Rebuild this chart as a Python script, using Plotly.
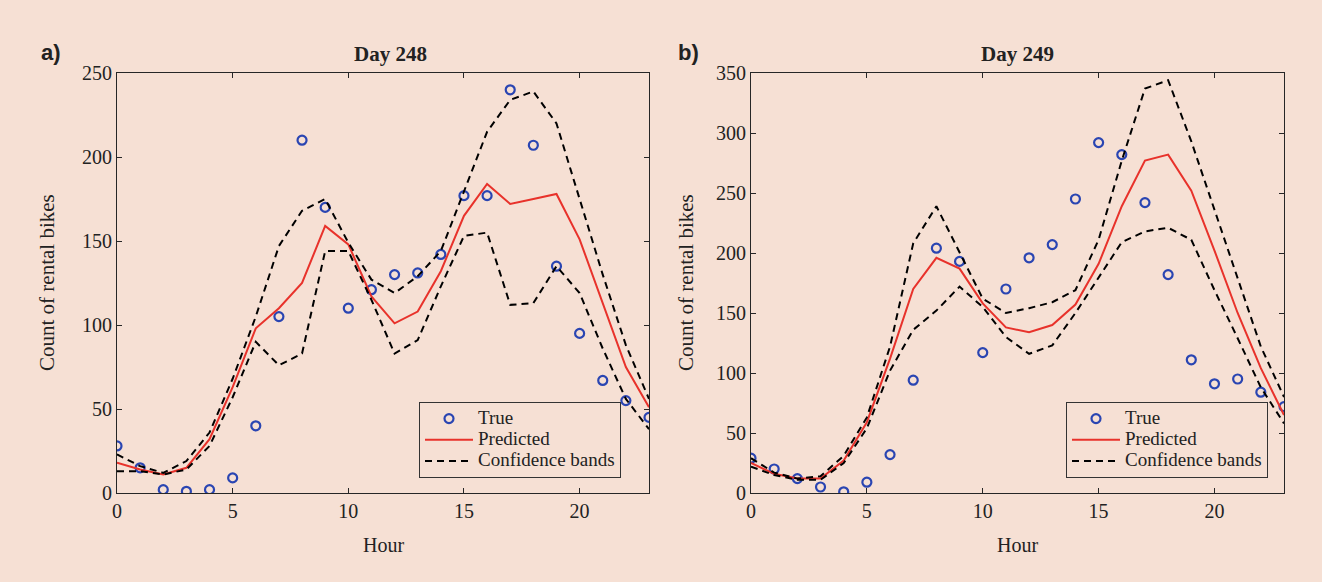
import plotly.graph_objects as go

hours = list(range(24))

# Day 248
true_248 = [28, 15, 2, 1, 2, 9, 40, 105, 210, 170, 110, 121, 130, 131, 142, 177, 177, 240, 207, 135, 95, 67, 55, 45]
pred_248 = [18, 14, 11, 15, 32, 63, 98, 110, 125, 159, 148, 117, 101, 108, 132, 165, 184, 172, 175, 178, 151, 113, 75, 51]
upper_248 = [23, 16, 12, 19, 36, 68, 105, 147, 168, 175, 149, 127, 119, 129, 144, 180, 215, 234, 239, 220, 175, 130, 88, 56]
lower_248 = [13, 13, 11, 14, 28, 57, 90, 76, 83, 144, 144, 115, 83, 91, 123, 153, 155, 112, 113, 135, 119, 86, 56, 38]

# Day 249
true_249 = [29, 20, 12, 5, 1, 9, 32, 94, 204, 193, 117, 170, 196, 207, 245, 292, 282, 242, 182, 111, 91, 95, 84, 72]
pred_249 = [25, 16, 12, 12, 27, 59, 112, 170, 196, 187, 158, 138, 134, 140, 157, 191, 239, 277, 282, 252, 202, 150, 104, 65]
upper_249 = [29, 17, 12, 14, 31, 63, 122, 208, 239, 200, 162, 150, 154, 159, 169, 211, 277, 337, 344, 293, 236, 179, 122, 80]
lower_249 = [22, 15, 11, 11, 25, 54, 102, 136, 152, 172, 155, 130, 116, 123, 150, 180, 209, 218, 221, 211, 169, 129, 88, 58]

BG = "#F6E0D4"
BLUE = "#2A45B2"
RED = "#E8322B"
SERIF = "Liberation Serif, Times New Roman, serif"
W, H = 1322, 582

fig = go.Figure()

def big(s):
    return '<span style="font-size:19px">' + s + '</span>'

panels = [
    (true_248, pred_248, upper_248, lower_248, "x", "y", "legend"),
    (true_249, pred_249, upper_249, lower_249, "x2", "y2", "legend2"),
]
for tr, pr, up, lo, xa, ya, lg in panels:
    fig.add_trace(go.Scatter(x=hours, y=tr, mode="markers", name=big("True"),
                             marker=dict(symbol="circle-open", size=9, color=BLUE,
                                         line=dict(width=2.2, color=BLUE)),
                             xaxis=xa, yaxis=ya, legend=lg, legendgroup=lg + "t"))
    fig.add_trace(go.Scatter(x=hours, y=pr, mode="lines", name=big("Predicted"),
                             line=dict(color=RED, width=2),
                             xaxis=xa, yaxis=ya, legend=lg, legendgroup=lg + "p"))
    fig.add_trace(go.Scatter(x=hours, y=up, mode="lines", name=big("Confidence bands"),
                             line=dict(color="black", width=2, dash="7px,5px"),
                             xaxis=xa, yaxis=ya, legend=lg, legendgroup=lg + "c"))
    fig.add_trace(go.Scatter(x=hours, y=lo, mode="lines", name=big("Confidence bands"),
                             line=dict(color="black", width=2, dash="7px,5px"),
                             xaxis=xa, yaxis=ya, legend=lg, legendgroup=lg + "c",
                             showlegend=False))

def px_x(p):
    return p / W

def px_y(p):
    return 1 - p / H

ydom = [px_y(493), px_y(73)]
axis_common = dict(showline=True, linecolor="#262626", linewidth=1, mirror="ticks",
                   ticks="inside", ticklen=5, tickcolor="#262626", showgrid=False,
                   zeroline=False, tickfont=dict(family=SERIF, size=20, color="#222"),
                   fixedrange=True)

leg_common = dict(bgcolor=BG, bordercolor="#333", borderwidth=1, tracegroupgap=0,
                  itemwidth=48, font=dict(family=SERIF, size=14, color="#222"))

fig.update_layout(
    width=W, height=H, margin=dict(l=0, r=0, t=0, b=0, autoexpand=False),
    paper_bgcolor=BG, plot_bgcolor=BG,
    xaxis=dict(domain=[px_x(117), px_x(649)], range=[0, 23], dtick=5, tick0=0, anchor="y", **axis_common),
    yaxis=dict(domain=ydom, range=[0, 250], dtick=50, tick0=0, anchor="x", **axis_common),
    xaxis2=dict(domain=[px_x(751), px_x(1284)], range=[0, 23], dtick=5, tick0=0, anchor="y2", **axis_common),
    yaxis2=dict(domain=ydom, range=[0, 350], dtick=50, tick0=0, anchor="x2", **axis_common),
    legend=dict(x=px_x(621), y=px_y(478), xanchor="right", yanchor="bottom", **leg_common),
    legend2=dict(x=px_x(1268), y=px_y(478), xanchor="right", yanchor="bottom", **leg_common),
)

annots = [
    dict(text="<b>Day 248</b>", x=px_x(390), y=px_y(54), size=21, family=SERIF),
    dict(text="<b>Day 249</b>", x=px_x(1017), y=px_y(54), size=21, family=SERIF),
    dict(text="<b>a)</b>", x=px_x(51), y=px_y(52), size=22, family="Liberation Sans Narrow, Liberation Sans, Arial, sans-serif"),
    dict(text="<b>b)</b>", x=px_x(688), y=px_y(52), size=22, family="Liberation Sans Narrow, Liberation Sans, Arial, sans-serif"),
    dict(text="Hour", x=px_x(383), y=px_y(545), size=20, family=SERIF),
    dict(text="Hour", x=px_x(1017), y=px_y(545), size=20, family=SERIF),
]
for a in annots:
    fig.add_annotation(text=a["text"], x=a["x"], y=a["y"], xref="paper", yref="paper",
                       xanchor="center", yanchor="middle", showarrow=False,
                       font=dict(family=a["family"], size=a["size"], color="#222"))
for xc in (47, 686):
    fig.add_annotation(text="Count of rental bikes", x=px_x(xc), y=px_y(283), xref="paper", yref="paper",
                       xanchor="center", yanchor="middle", showarrow=False, textangle=-90,
                       font=dict(family=SERIF, size=21, color="#222"))

fig.write_html("out.html")
